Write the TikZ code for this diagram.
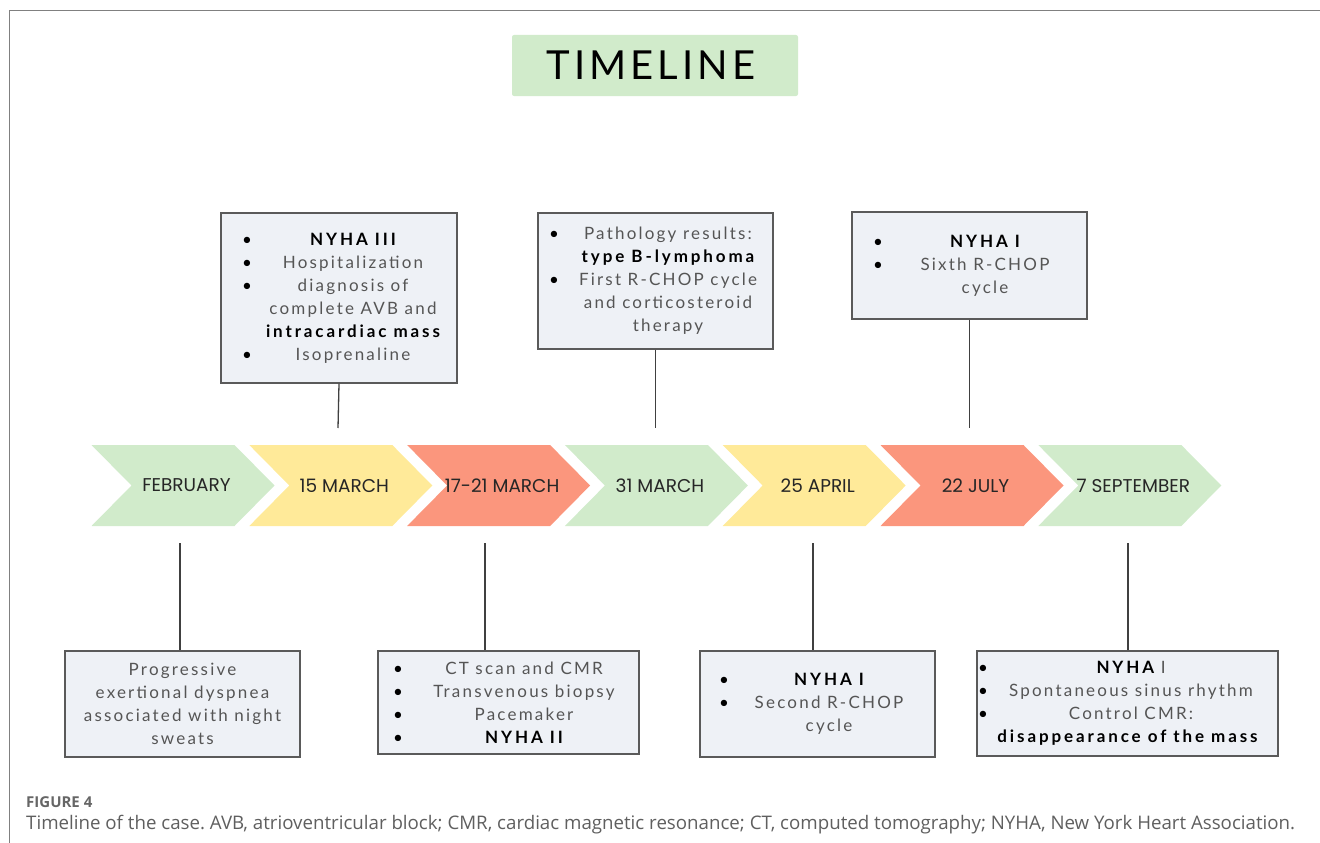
\documentclass[tikz,border=0pt]{standalone}
\usepackage{fontspec}
\setmainfont{Lato}
\newfontfamily\boxfont[LetterSpace=13, BoldFeatures={LetterSpace=17}]{Lato}
\newfontfamily\datefont{Poppins}
\newfontfamily\titlefont[LetterSpace=10]{Lato}
\newfontfamily\capfont{Open Sans}
\usepackage{tikz}
\usetikzlibrary{positioning, calc}
\usepackage{xcolor}
\frenchspacing

\definecolor{evgreen}{RGB}{209,235,203}
\definecolor{evyellow}{RGB}{255,234,153}
\definecolor{evred}{RGB}{251,150,125}
\definecolor{evfill}{RGB}{238,241,246}
\definecolor{evline}{RGB}{90,90,90}
\definecolor{evtext}{RGB}{85,85,85}
\definecolor{capgray}{RGB}{95,95,95}

% bullet rows inside the event boxes
\newcommand{\evset}[3]{\def\evlb{#1pt}\def\evcw{#2pt}\def\evbi{#3pt}}
\newcommand{\evb}[1]{\makebox[\evlb][l]{\hspace*{\evbi}\textcolor{black}{\textbullet}}\makebox[\evcw][c]{#1}}
\newcommand{\evn}[1]{\makebox[\evlb]{}\makebox[\evcw][c]{#1}}
\newcommand{\evf}[1]{\makebox[\dimexpr\evlb+\evcw\relax][c]{#1}}
\newcommand{\evhl}[1]{\textcolor{black}{\bfseries #1}}

\begin{document}
\begin{tikzpicture}[
  x=1pt, y=-1pt,
  evbox/.style={draw=evline, fill=evfill, line width=1.3pt, inner sep=0pt,
    align=center, text=evtext, font=\boxfont\fontsize{17}{23}\selectfont},
  datelbl/.style={font=\datefont\fontsize{18.5}{20}\selectfont, text=black!85},
  conn/.style={draw=black!75, line width=1.3pt},
  frame/.style={draw=black!50, line width=1.8pt}
]
\useasboundingbox (0,0) rectangle (1320,843);

\draw[frame] (1320,10.5) -- (9.5,10.5) -- (9.5,843);

\node[fill=evgreen, rounded corners=2pt, minimum width=286, minimum height=61,
  font=\titlefont\fontsize{40}{40}\selectfont] (ttl) at (655,65.5) {\hspace*{-8pt}TIMELINE};

% the arrow band
\foreach \i/\col/\lab/\nm in {0/evgreen/FEBRUARY/feb, 1/evyellow/15 MARCH/marA,
    2/evred/17-21 MARCH/marB, 3/evgreen/31 MARCH/marC, 4/evyellow/25 APRIL/apr,
    5/evred/22 JULY/jul, 6/evgreen/7 SEPTEMBER/sep} {
  \fill[\col] ({91.5+\i*157.8},445) -- ++(143,0) -- ++(40,40.5) -- ++(-40,40.5)
    -- ++(-143,0) -- ++(40,-40.5) -- cycle;
  \node[datelbl] (\nm) at ({91.5+\i*157.8+95},485.5) {\lab};
}

% events above
\evset{28}{208}{21}
\node[evbox, minimum width=236, minimum height=170] (bxA) at (339,298) {%
  \evb{\evhl{NYHA III}}\\ \evb{Hospitalization}\\ \evb{diagnosis of}\\
  \evn{complete AVB and}\\ \evn{\evhl{intracardiac mass}}\\ \evb{Isoprenaline}};
\evset{25}{210}{11}
\node[evbox, minimum width=235, minimum height=136] (bxB) at (655.5,281) {%
  \evb{Pathology results:}\\ \evn{\evhl{type B-lymphoma}}\\ \evb{First R-CHOP cycle}\\
  \evn{and corticosteroid}\\ \evn{therapy}};
\evset{31}{204}{21}
\node[evbox, minimum width=235, minimum height=107] (bxC) at (969.5,265.5) {%
  \evb{\evhl{NYHA I}}\\ \evb{Sixth R-CHOP}\\ \evn{cycle}};

% events below
\node[evbox, minimum width=235, minimum height=106] (bxD) at (182.5,704) {%
  Progressive\\ exertional dyspnea\\ associated with night\\ sweats};
\evset{31}{230}{15}
\node[evbox, minimum width=261, minimum height=103] (bxE) at (508.5,702.5) {%
  \evb{CT scan and CMR}\\ \evb{Transvenous biopsy}\\ \evb{Pacemaker}\\ \evb{\evhl{NYHA II}}};
\evset{23}{212}{19}
\node[evbox, minimum width=235, minimum height=106] (bxF) at (817.5,704) {%
  \evb{\evhl{NYHA I}}\\ \evb{Second R-CHOP}\\ \evn{cycle}};
\evset{7}{294}{1}
\node[evbox, minimum width=301, minimum height=105] (bxG) at (1127.5,703.5) {%
  \evb{\evhl{NYHA} I}\\ \evb{Spontaneous sinus rhythm}\\ \evb{Control CMR:}\\
  \evf{\evhl{disappearance of the mass}}};

% connectors
\coordinate (tA) at (338,428);
\coordinate (tB) at (655.5,428);
\coordinate (tC) at (969.5,428);
\draw[conn] (bxA.south) -- (tA);
\draw[conn] (bxB.south) -- (tB);
\draw[conn] (bxC.south) -- (tC);
\coordinate (uD) at (180,543);
\coordinate (uE) at (485,543);
\coordinate (uF) at (813,543);
\coordinate (uG) at (1128,543);
\draw[conn] (uD) -- (uD |- bxD.north);
\draw[conn] (uE) -- (uE |- bxE.north);
\draw[conn] (uF) -- (uF |- bxF.north);
\draw[conn] (uG) -- (uG |- bxG.north);

% caption
\node[anchor=base west, inner sep=0pt, text=black!60,
  font=\capfont\bfseries\fontsize{15}{17}\selectfont] (fig) at (26,807) {FIGURE 4};
\node[anchor=base west, inner sep=0pt, text=capgray,
  font=\capfont\fontsize{18.7}{21}\selectfont] (cap) at (26,829)
  {Timeline of the case. AVB, atrioventricular block; CMR, cardiac magnetic resonance; CT, computed tomography; NYHA, New York Heart Association.};
\end{tikzpicture}
\end{document}
